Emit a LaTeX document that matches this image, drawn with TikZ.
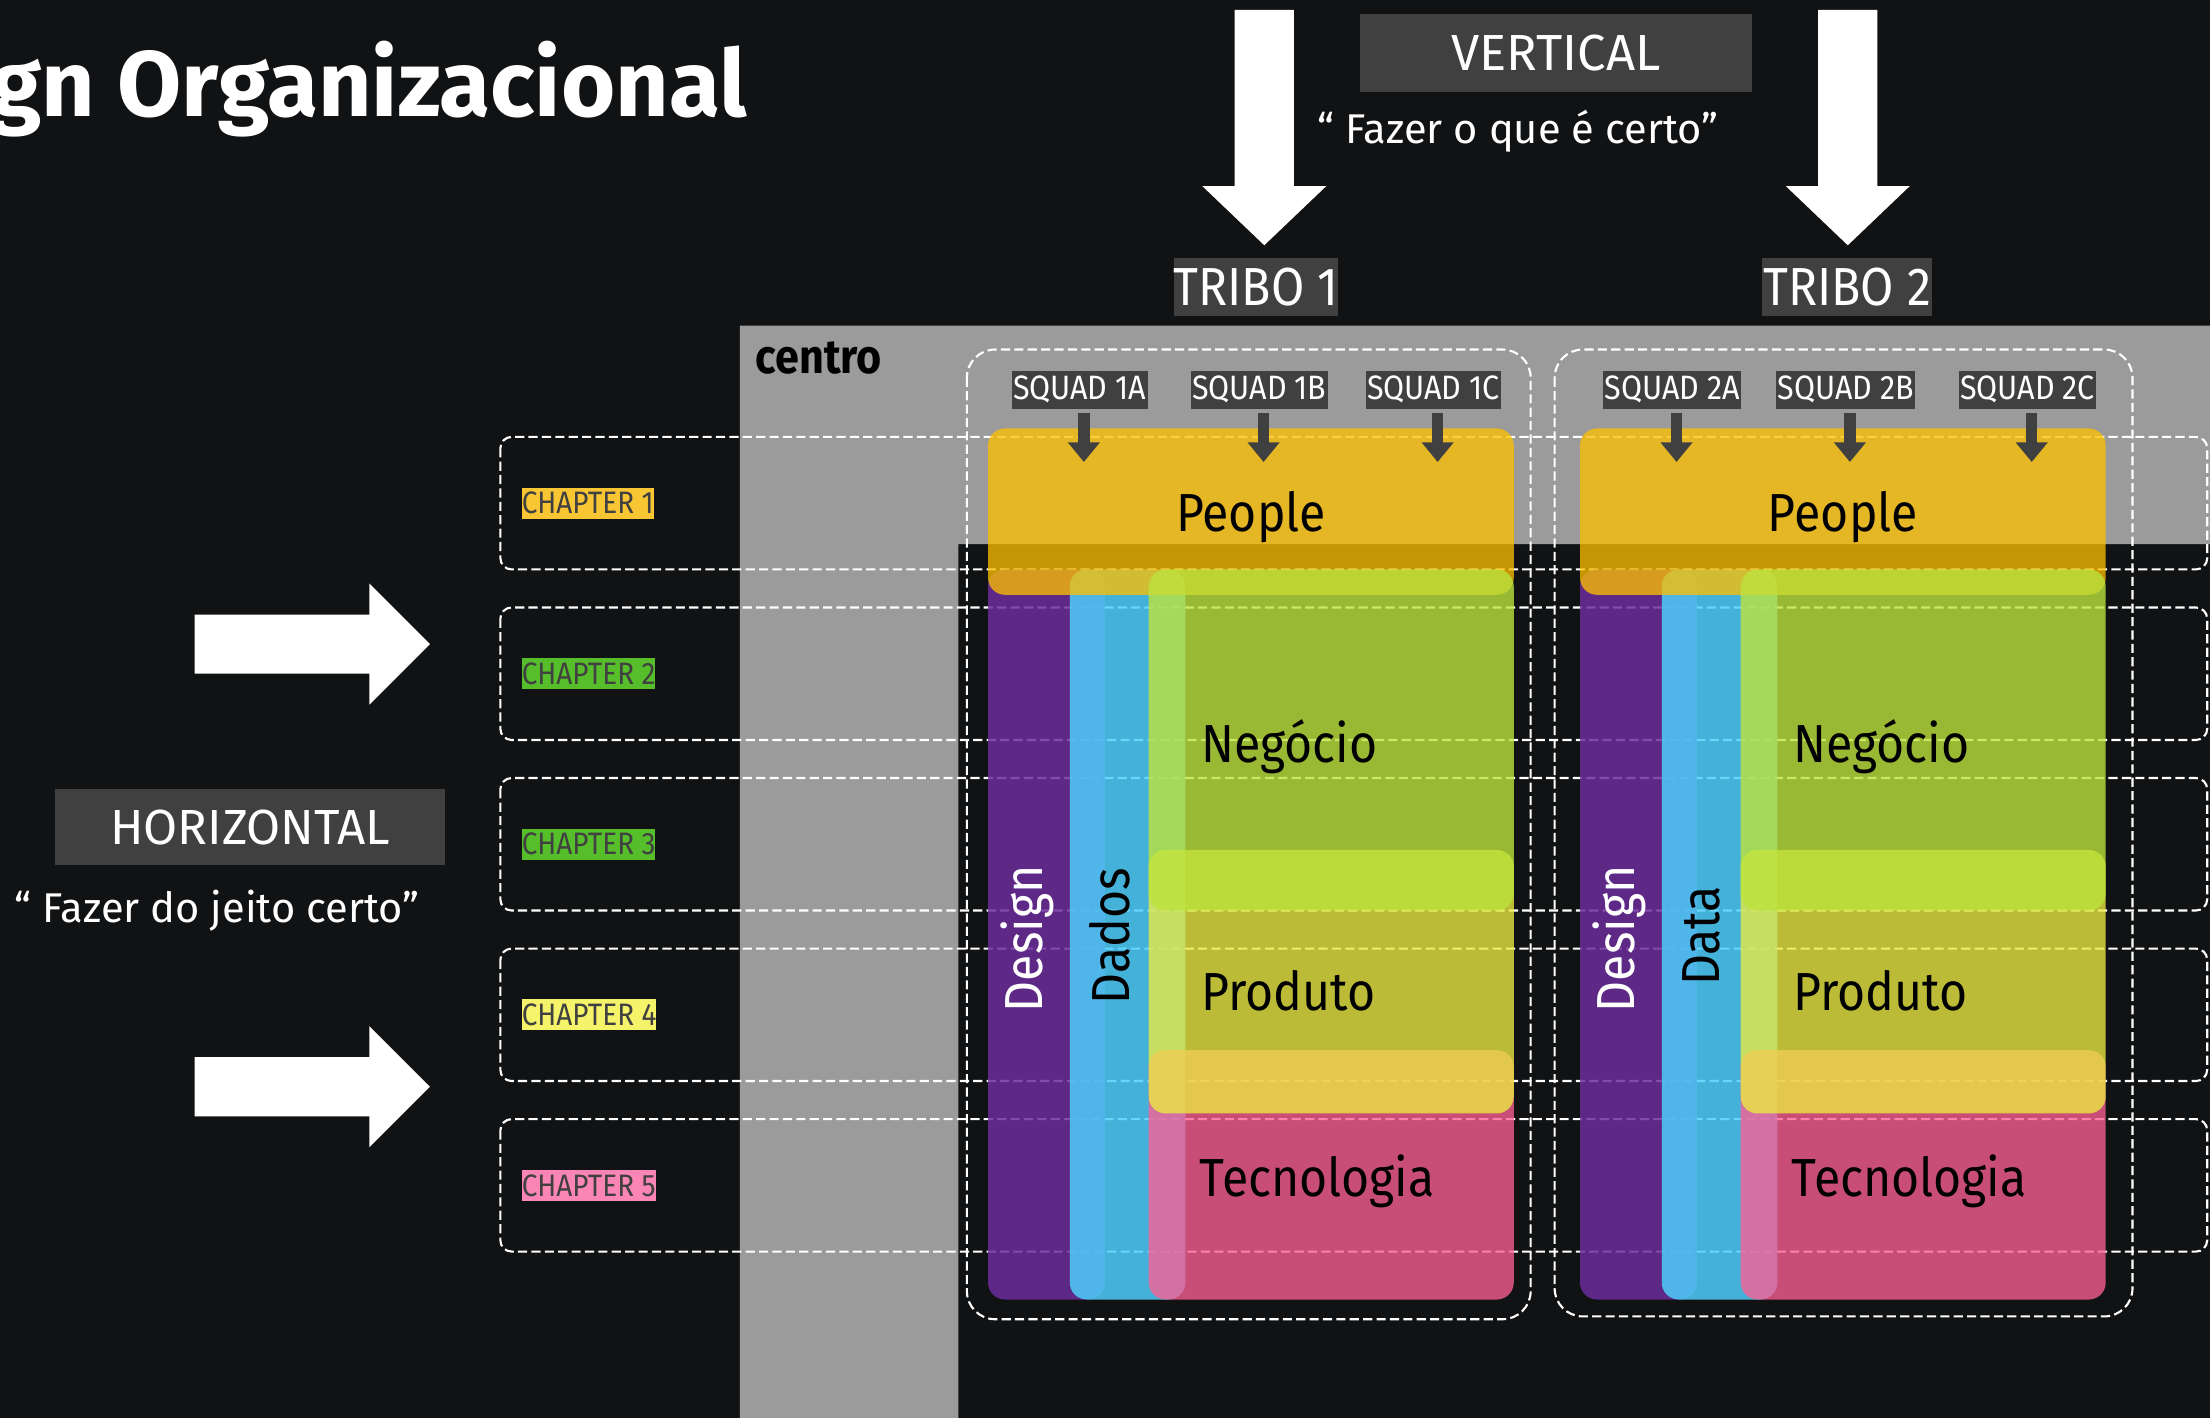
\documentclass[tikz,border=0pt]{standalone}
\usepackage{fontspec}
\setmainfont{Fira Sans}[FakeStretch=0.9]
\newfontfamily\fontetitulo{Fira Sans}
\newfontfamily\fontelarga{Fira Sans}
\usetikzlibrary{positioning,arrows.meta}

\definecolor{fundo}{HTML}{111214}
\definecolor{cinza}{HTML}{9B9B9B}
\definecolor{caixa}{HTML}{404040}
\definecolor{amarelo}{HTML}{FEC000}
\definecolor{roxo}{HTML}{6C2E9B}
\definecolor{azul}{HTML}{4ECEFB}
\definecolor{verde}{HTML}{BCE33D}
\definecolor{oliva}{HTML}{ECEB41}
\definecolor{rosa}{HTML}{FC5F93}
\definecolor{cap1}{HTML}{F9C633}
\definecolor{cap2}{HTML}{55BE2A}
\definecolor{cap4}{HTML}{F4F36A}
\definecolor{cap5}{HTML}{FB86B5}

\tikzset{
  tracejado/.style={draw=white, line width=1.5pt, dash pattern=on 6.5pt off 3pt},
  rotulo/.style={fill=caixa, text=white, inner sep=0pt},
  bloco/.style={rounded corners=12pt, fill opacity=.8},
  setasquad/.style={draw=caixa, line width=8pt, -{Triangle[width=22pt,length=14pt]}, shorten <=3pt, shorten >=-24pt},
  texto/.style={font=\fontsize{38}{42}\selectfont, inner sep=0pt}
}

\begin{document}
\begin{tikzpicture}[x=1pt,y=-1pt]

\useasboundingbox (0,0) rectangle (1568,1006);
\fill[fundo] (0,0) rectangle (1568,1006);
\clip (0,0) rectangle (1568,1006);

% Centro
\fill[cinza] (525,231) -- (1568,231) -- (1568,386) -- (680,386) -- (680,1006) -- (525,1006) -- cycle;
\node[font=\bfseries\fontsize{34}{40}\selectfont, anchor=base west, inner sep=0pt] (centro) at (536,265) {centro};

% Titulo
\node[font=\fontetitulo\bfseries\fontsize{66}{70}\selectfont, text=white, anchor=base east, inner sep=0pt] (titulo) at (530,83) {gn Organizacional};

% Setas brancas
\foreach \x in {897,1311}
  \fill[white] (\x-21,7) -- (\x+21,7) -- (\x+21,132) -- (\x+44,132) -- (\x,174) -- (\x-44,132) -- (\x-21,132) -- cycle;
\foreach \y in {457,771}
  \fill[white] (138,\y-21) -- (262,\y-21) -- (262,\y-43) -- (305,\y) -- (262,\y+43) -- (262,\y+21) -- (138,\y+21) -- cycle;

% Vertical e horizontal
\node[rotulo, minimum width=278pt, minimum height=55pt, font=\fontelarga\fontsize{36}{40}\selectfont] (vertical) at (1104,37.5) {VERTICAL};
\node[text=white, font=\fontelarga\fontsize{29.5}{32}\selectfont, inner sep=0pt] (fazer1) at (1077,93) {“ Fazer o que é certo”};
\node[rotulo, minimum width=277pt, minimum height=54pt, font=\fontelarga\fontsize{35}{40}\selectfont] (horizontal) at (177.5,587) {HORIZONTAL};
\node[text=white, font=\fontelarga\fontsize{29.5}{32}\selectfont, inner sep=0pt] (fazer2) at (154,646) {“ Fazer do jeito certo”};

\node[rotulo, minimum width=116pt, minimum height=41pt, font=\fontsize{38}{40}\selectfont] (tribo1) at (891,203.5) {TRIBO 1};
\node[rotulo, minimum width=121pt, minimum height=41pt, font=\fontsize{38}{40}\selectfont] (tribo2) at (1310.5,203.5) {TRIBO 2};

% Chapters
\foreach \c [count=\i] in {cap1,cap2,cap2,cap4,cap5}{
  \draw[tracejado, rounded corners=8pt] (355,189+121*\i) rectangle (1566,283+121*\i);
  \node[fill=\c, text=caixa, inner sep=0pt, minimum height=22pt, anchor=west, font=\fontsize{22}{24}\selectfont] (chapter\i) at (370,236+121*\i) {CHAPTER \i};
}

% Tribos
\draw[tracejado, rounded corners=20pt] (686,248) rectangle (1086,936);
\draw[tracejado, rounded corners=20pt] (1103,248) rectangle (1513,934);

\foreach \dx/\t/\dado in {0/1/Dados, 420/2/Data}{
  \fill[roxo, bloco, fill opacity=.85] (701+\dx,404) rectangle (784+\dx,922);
  \fill[azul, bloco, fill opacity=.85] (759+\dx,404) rectangle (841+\dx,922);
  \node[bloco, texto, fill=amarelo, fill opacity=.76, text opacity=1, text depth=0pt, minimum width=373pt, minimum height=118pt] (pes\t) at (887.5+\dx,363) {People};
  \fill[rosa, bloco, fill opacity=.78] (815+\dx,745) rectangle (1074+\dx,922);
  \fill[oliva, bloco, fill opacity=.78] (815+\dx,603) rectangle (1074+\dx,790);
  \fill[verde, bloco] (815+\dx,404) rectangle (1074+\dx,646);
  % Labels
  \node[texto, anchor=west] (neg\t) at (852+\dx,530) {Negócio};
  \node[texto, anchor=west] (pro\t) at (852+\dx,703) {Produto};
  \node[texto, anchor=west] (tec\t) at (851+\dx,838) {Tecnologia};
  \node[texto, rotate=90, text=white] (des\t) at (729+\dx,666) {Design};
  \node[texto, rotate=90] (dad\t) at (787+\dx,664) {\dado};
}

% Squads
\foreach \n/\x/\t in {1A/766/1, 1B/893.5/1, 1C/1017/1, 2A/1186.5/2, 2B/1309.5/2, 2C/1438.5/2}{
  \node[rotulo, minimum height=27pt, inner xsep=1pt, font=\fontsize{24}{26}\selectfont] (s\n) at (\x,276.5) {SQUAD \n};
  \draw[setasquad] ([xshift=3pt]s\n.south) -- ([xshift=3pt]s\n.south |- pes\t.north);
}

\end{tikzpicture}
\end{document}
